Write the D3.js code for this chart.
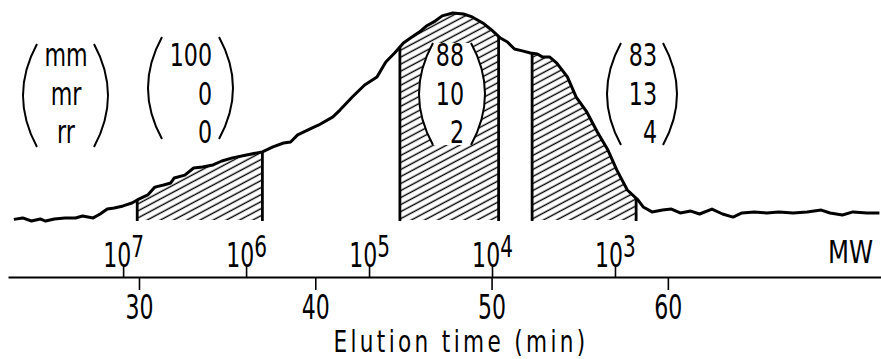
<!DOCTYPE html>
<html>
<head>
<meta charset="utf-8">
<script src="https://cdn.jsdelivr.net/npm/d3@7"></script>
<style>
  body { margin: 0; background: #fff; }
  svg { display: block; }
  text { font-family: "DejaVu Sans Condensed", "DejaVu Sans", sans-serif; font-stretch: condensed; fill: #000; }
</style>
</head>
<body>
<div id="chart"></div>
<script>
// chromatogram trace (elution time in min, detector response in % of peak)
var elutionTime = [22.9,23.4,23.9,24.4,24.7,25.2,25.8,26.4,26.8,27.4,27.8,28.2,28.6,29.1,29.6,29.9,
  30.5,30.9,31.4,31.8,32.0,32.6,33.1,33.6,34.2,34.7,35.3,36.1,37.0,37.6,38.2,38.6,39.0,39.8,
  40.2,41.0,41.4,42.1,42.8,43.5,44.0,44.5,45.0,45.4,45.9,46.3,46.8,47.2,47.8,48.4,48.9,49.5,
  50.0,50.5,50.9,51.3,51.8,52.2,52.6,52.9,53.3,53.7,54.3,54.8,55.4,56.0,56.6,57.1,57.7,58.3,
  58.6,59.1,59.7,60.2,60.7,61.3,61.8,62.5,63.1,63.7,64.2,64.9,65.6,66.3,67.1,67.9,68.7,69.2,
  69.9,70.5,71.3,72.0];
var response = [0.3,1.0,-0.5,0.5,-0.5,0.5,1.0,1.0,1.9,1.0,2.9,5.3,5.8,6.8,8.2,9.7,
  12.1,15.9,16.9,17.9,20.3,21.7,25.1,25.6,26.6,28.5,30.0,31.4,32.9,35.3,37.2,37.7,41.1,44.4,
  45.9,49.8,53.1,59.4,65.2,69.1,76.3,80.7,85.5,87.9,90.8,93.7,96.1,98.6,100,99.5,98.1,95.2,
  91.8,87.9,86.0,82.6,81.6,80.7,80.2,78.7,78.7,75.8,69.1,59.4,52.2,42.5,33.8,24.2,14.5,9.7,
  6.3,3.9,4.8,5.3,3.4,4.3,2.9,5.3,2.9,1.4,3.4,3.9,3.4,3.9,3.4,3.9,4.8,3.4,
  2.4,3.9,3.4,3.4];

// collected fractions (min)
var fractionStart = [29.9, 44.8, 52.3];
var fractionEnd   = [37.0, 50.4, 58.2];

// triad tacticity of the fractions
var triads = ["mm", "mr", "rr"];
var composition = [[100, 0, 0], [88, 10, 2], [83, 13, 4]];

var timeTicks = [30, 40, 50, 60];
var mwTicks = [1e7, 1e6, 1e5, 1e4, 1e3];
var mwExp = ["7", "6", "5", "4", "3"];

var width = 881, height = 359;
var svg = d3.select("#chart").append("svg")
  .attr("width", width).attr("height", height);

var x = d3.scaleLinear().domain([22.57, 72.09]).range([8, 881]);
var y = d3.scaleLinear().domain([0, 100]).range([220, 13]);
var mw = d3.scaleLog().domain([1e7, 1e3]).range([x(29.1), x(57.0)]);

var trace = elutionTime.map(function (t, i) { return {t: t, v: response[i]}; });
var bis = d3.bisector(function (d) { return d.t; }).left;
function valueAt(t) {
  var i = bis(trace, t);
  var a = trace[i - 1], b = trace[i];
  return a.v + (b.v - a.v) * (t - a.t) / (b.t - a.t);
}

// narrow text: the printed font is much narrower than anything installed
function label(parent, px, py, str, size, sx, anchor) {
  return parent.append("text")
    .attr("transform", "translate(" + px + "," + py + ") scale(" + sx + ",1)")
    .attr("text-anchor", anchor || "start")
    .attr("font-size", size)
    .text(str);
}

// hatch pattern
var defs = svg.append("defs");
defs.append("pattern")
  .attr("id", "hatch")
  .attr("patternUnits", "userSpaceOnUse")
  .attr("width", 20).attr("height", 6.2)
  .attr("patternTransform", "rotate(-28)")
  .append("line")
    .attr("x1", 0).attr("x2", 20)
    .attr("y1", 3).attr("y2", 3)
    .attr("stroke", "#000").attr("stroke-width", 1.4);

var area = d3.area()
  .x(function (d) { return x(d.t); })
  .y0(y(0))
  .y1(function (d) { return y(d.v); });

fractionStart.forEach(function (a, k) {
  var b = fractionEnd[k];
  var pts = [{t: a, v: valueAt(a)}]
    .concat(trace.filter(function (d) { return d.t > a && d.t < b; }))
    .concat([{t: b, v: valueAt(b)}]);
  svg.append("path")
    .attr("d", area(pts))
    .attr("fill", "url(#hatch)");
  [a, b].forEach(function (t) {
    svg.append("line")
      .attr("x1", x(t)).attr("x2", x(t))
      .attr("y1", y(0) + 1).attr("y2", y(valueAt(t)))
      .attr("stroke", "#000").attr("stroke-width", 2.8);
  });
});

// composition matrices: first one holds the triad names
var matrices = [
  {l: 23,  r: 108, top: 44, bot: 147, tx: 66,  anchor: "middle", rows: triads},
  {l: 148, r: 233, top: 37, bot: 139, tx: 212, anchor: "end", rows: composition[0]},
  {l: 419, r: 485, top: 43, bot: 145, tx: 464, anchor: "end", rows: composition[1], blank: true},
  {l: 607, r: 677, top: 43, bot: 145, tx: 657, anchor: "end", rows: composition[2]}
];
var bulge = 14;
matrices.forEach(function (m) {
  var mid = (m.top + m.bot) / 2;
  var left = "M" + (m.l + bulge) + "," + m.top + " Q" + (m.l - bulge) + "," + mid + " " + (m.l + bulge) + "," + m.bot;
  var right = "M" + (m.r - bulge) + "," + m.top + " Q" + (m.r + bulge) + "," + mid + " " + (m.r - bulge) + "," + m.bot;
  if (m.blank) {
    svg.append("path")
      .attr("d", "M" + (m.l + bulge) + "," + m.top + " Q" + (m.l - bulge) + "," + mid + " " + (m.l + bulge) + "," + m.bot +
        " L" + (m.r - bulge) + "," + m.bot + " Q" + (m.r + bulge) + "," + mid + " " + (m.r - bulge) + "," + m.top + "Z")
      .attr("fill", "#fff");
  }
  svg.append("path").attr("d", left).attr("fill", "none").attr("stroke", "#000").attr("stroke-width", 2);
  svg.append("path").attr("d", right).attr("fill", "none").attr("stroke", "#000").attr("stroke-width", 2);
  m.rows.forEach(function (d, i) {
    label(svg, m.tx, 66 + i * 38.5, d, 32, 0.77, m.anchor);
  });
});

// trace
var line = d3.line()
  .x(function (d) { return x(d.t); })
  .y(function (d) { return y(d.v); });
svg.append("path")
  .attr("d", line(trace))
  .attr("fill", "none")
  .attr("stroke", "#000")
  .attr("stroke-width", 3)
  .attr("stroke-linejoin", "round");

// elution time axis
var axisY = 277;
var gx = svg.append("g")
  .attr("transform", "translate(0," + axisY + ")")
  .call(d3.axisBottom(x).tickValues(timeTicks).tickSizeInner(13).tickSizeOuter(0).tickPadding(4));
gx.select(".domain").attr("stroke-width", 1.8);
gx.selectAll(".tick line").attr("stroke-width", 1.6);
gx.selectAll(".tick text")
  .attr("font-size", 34)
  .attr("font-family", null)
  .attr("dy", null)
  .attr("y", 42)
  .attr("transform", "scale(0.72,1)");

// molecular weight ticks (upwards)
var gm = svg.append("g")
  .attr("transform", "translate(0," + axisY + ")")
  .call(d3.axisTop(mw).tickValues(mwTicks).tickSizeInner(11).tickSizeOuter(0).tickFormat(""));
gm.select(".domain").remove();
gm.selectAll(".tick line").attr("stroke-width", 1.6);
gm.selectAll(".tick").append("text")
  .attr("y", -10)
  .attr("text-anchor", "middle")
  .attr("font-family", null)
  .attr("font-size", 34)
  .attr("transform", "scale(0.72,1)")
  .each(function (d, i) {
    var t = d3.select(this);
    t.append("tspan").text("10");
    t.append("tspan").attr("dy", -10).attr("font-size", 31).text(mwExp[i]);
  });

label(svg, 873, 263, "MW", 31.5, 0.86, "end");

label(svg, 461, 352, "Elution time (min)", 30, 0.8, "middle")
  .attr("letter-spacing", 4.2);
</script>
</body>
</html>
